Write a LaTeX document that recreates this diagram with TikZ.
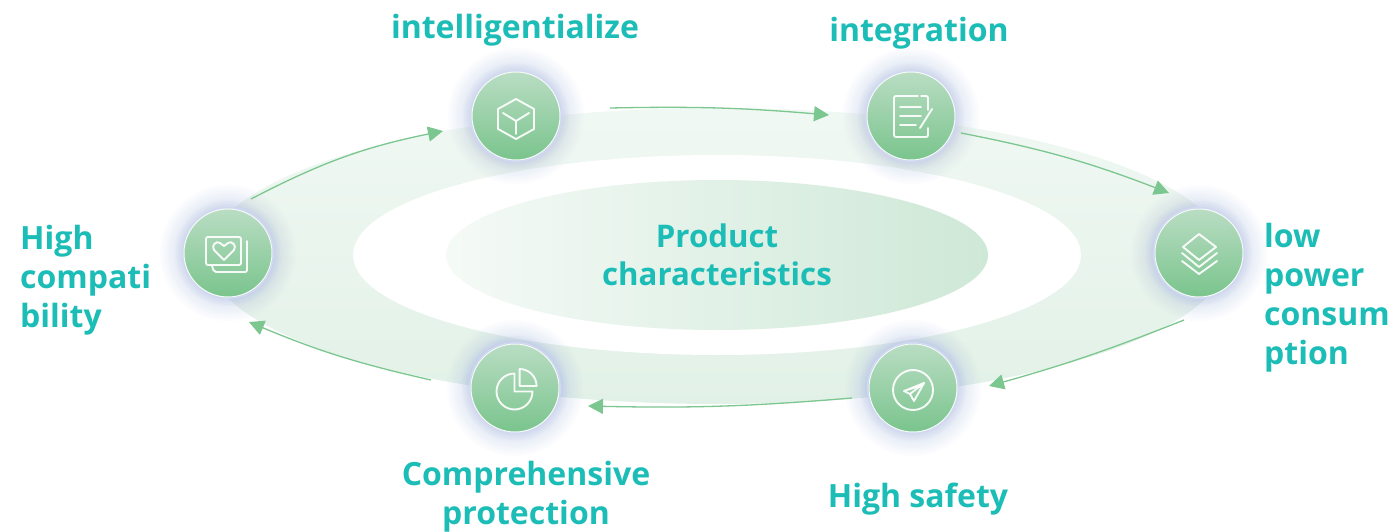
\documentclass[tikz,border=0pt]{standalone}
\usepackage{fontspec}
\setmainfont{Open Sans}[BoldFont={Open Sans Bold}]
\usetikzlibrary{arrows.meta}
\definecolor{teal1}{HTML}{1CBDB6}
\definecolor{arrowg}{HTML}{7CC68F}
\definecolor{halo}{HTML}{9AA8E6}
\definecolor{green1}{HTML}{B9DDC3}
\definecolor{green2}{HTML}{7AC48D}
\definecolor{bandtop}{HTML}{F0F8F3}
\definecolor{bandbot}{HTML}{E2F1E7}
\definecolor{coreL}{HTML}{F5FAF7}
\definecolor{coreR}{HTML}{CEE8D7}
\tikzset{
  lab/.style={text=teal1,font=\fontsize{32}{39}\selectfont\bfseries,inner sep=0pt,align=#1},
  lab/.default=center,
  labc/.style={text=teal1,font=\fontsize{31.2}{38}\selectfont\bfseries,inner sep=0pt,align=center},
  flow/.style={draw=arrowg,line width=1.3pt,-{Triangle[length=15pt,width=15pt]}},
  icon/.style={draw=white,line width=1.9pt,line cap=round,line join=round,opacity=.92},
  disc/.style={circle,minimum size=88pt,inner sep=0pt,draw=white!85!green1,line width=1pt,top color=green1,bottom color=green2},
}
\newcommand{\haloat}[1]{%
  \foreach \r in {46,48,...,68}{\fill[halo,opacity=.022] (#1) circle[radius=\r];}%
  \foreach \r in {46,47.5,...,54}{\fill[halo,opacity=.03] (#1) circle[radius=\r];}%
  \draw[halo!45!white,line width=1.2pt] (#1) circle[radius=45.5];
}
\begin{document}
\begin{tikzpicture}[x=1pt,y=-1pt]
\useasboundingbox (0,0) rectangle (1397,532);
\fill[white] (0,0) rectangle (1397,532);
% rings
\shade[top color=bandtop,bottom color=bandbot] (717,256) ellipse[x radius=510,y radius=148];
\fill[white] (717,255) ellipse[x radius=364,y radius=100];
\shade[left color=coreL,right color=coreR] (717,255) ellipse[x radius=271,y radius=75];
% halos
\coordinate (ca) at (228,253);
\coordinate (cb) at (516,116);
\coordinate (cc) at (911,116);
\coordinate (cd) at (1199,253);
\coordinate (ce) at (913,388);
\coordinate (cf) at (515,388);
\haloat{ca}\haloat{cb}\haloat{cc}\haloat{cd}\haloat{ce}\haloat{cf}
% discs
\node[disc] (na) at (ca) {};
\node[disc] (nb) at (cb) {};
\node[disc] (nc) at (cc) {};
\node[disc] (nd) at (cd) {};
\node[disc] (ne) at (ce) {};
\node[disc] (nf) at (cf) {};
% arrow ends
\coordinate (a1) at (251,199); \coordinate (a2) at (443,131);
\coordinate (b1) at (610,108); \coordinate (b2) at (829,115);
\coordinate (c1) at (961,133); \coordinate (c2) at (1169,193);
\coordinate (d1) at (1184,320); \coordinate (d2) at (989,386);
\coordinate (e1) at (852,398); \coordinate (e2) at (588,406);
\coordinate (f1) at (431,380); \coordinate (f2) at (249,322);
\draw[flow] (a1) to[bend left=8] (a2);
\draw[flow] (b1) to[bend left=3] (b2);
\draw[flow] (c1) to[bend left=5] (c2);
\draw[flow] (d1) to[bend left=3] (d2);
\draw[flow] (e1) to[bend left=3] (e2);
\draw[flow] (f1) to[bend left=5] (f2);
% icon: pictures with heart
\draw[icon,rounded corners=2pt] (206,237) rectangle (241,265);
\draw[icon,rounded corners=2pt] (247,241) -- (247,272) -- (214,272) -- (212,266);
\draw[icon] (224,260) -- (214,250) .. controls (211,246) and (216,240) .. (220,243) -- (224,246) -- (228,243) .. controls (232,240) and (237,246) .. (234,250) -- cycle;
% icon: cube
\draw[icon] (516,99) -- (534,109) -- (534,129) -- (516,139) -- (498,129) -- (498,109) -- cycle;
\draw[icon] (503,113) -- (516,121) -- (529,113) (516,121) -- (516,134);
% icon: document
\draw[icon,rounded corners=2pt] (918,96) -- (894,96) -- (894,137) -- (928,137) -- (928,128);
\draw[icon,rounded corners=2pt] (921,96) -- (928,96) -- (928,110);
\draw[icon] (900,107) -- (921,107) (900,116) -- (921,116) (900,125) -- (916,125) (932,109) -- (920,128);
% icon: layers
\draw[icon] (1199,234) -- (1216,247) -- (1199,260) -- (1183,247) -- cycle;
\draw[icon] (1182,253) -- (1199,267) -- (1217,253);
\draw[icon] (1182,261) -- (1199,274) -- (1217,261);
% icon: plane
\draw[icon] (913,390) circle[radius=20];
\draw[icon] (924,383) -- (904,391) -- (910,394) -- (914,401) -- cycle;
\draw[icon] (924,383) -- (910,394);
\draw[icon,line width=1.2pt] (921,386) -- (908,390);
% icon: pie
\draw[icon] (514.5,373.5) -- (514.5,391.5) -- (532.5,391.5) arc[start angle=0,end angle=270,radius=18];
\draw[icon] (519.6,369) arc[start angle=270,end angle=360,radius=17] -- (519.6,386) -- cycle;
% labels
\node[lab] (tb) at (515,30) {intelligentialize};
\node[lab] (tc) at (919,33) {integration};
\node[lab=left,anchor=west] (td) at (1264,298) {low\\power\\consum\\ption};
\node[lab=left,anchor=west] (ta) at (20,280) {High\\compati\\bility};
\node[lab] (te) at (918,499) {High safety};
\node[lab] (tf) at (526,497) {Comprehensive\\protection};
\node[labc] (tm) at (717,255) {Product\\characteristics};
\end{tikzpicture}
\end{document}
